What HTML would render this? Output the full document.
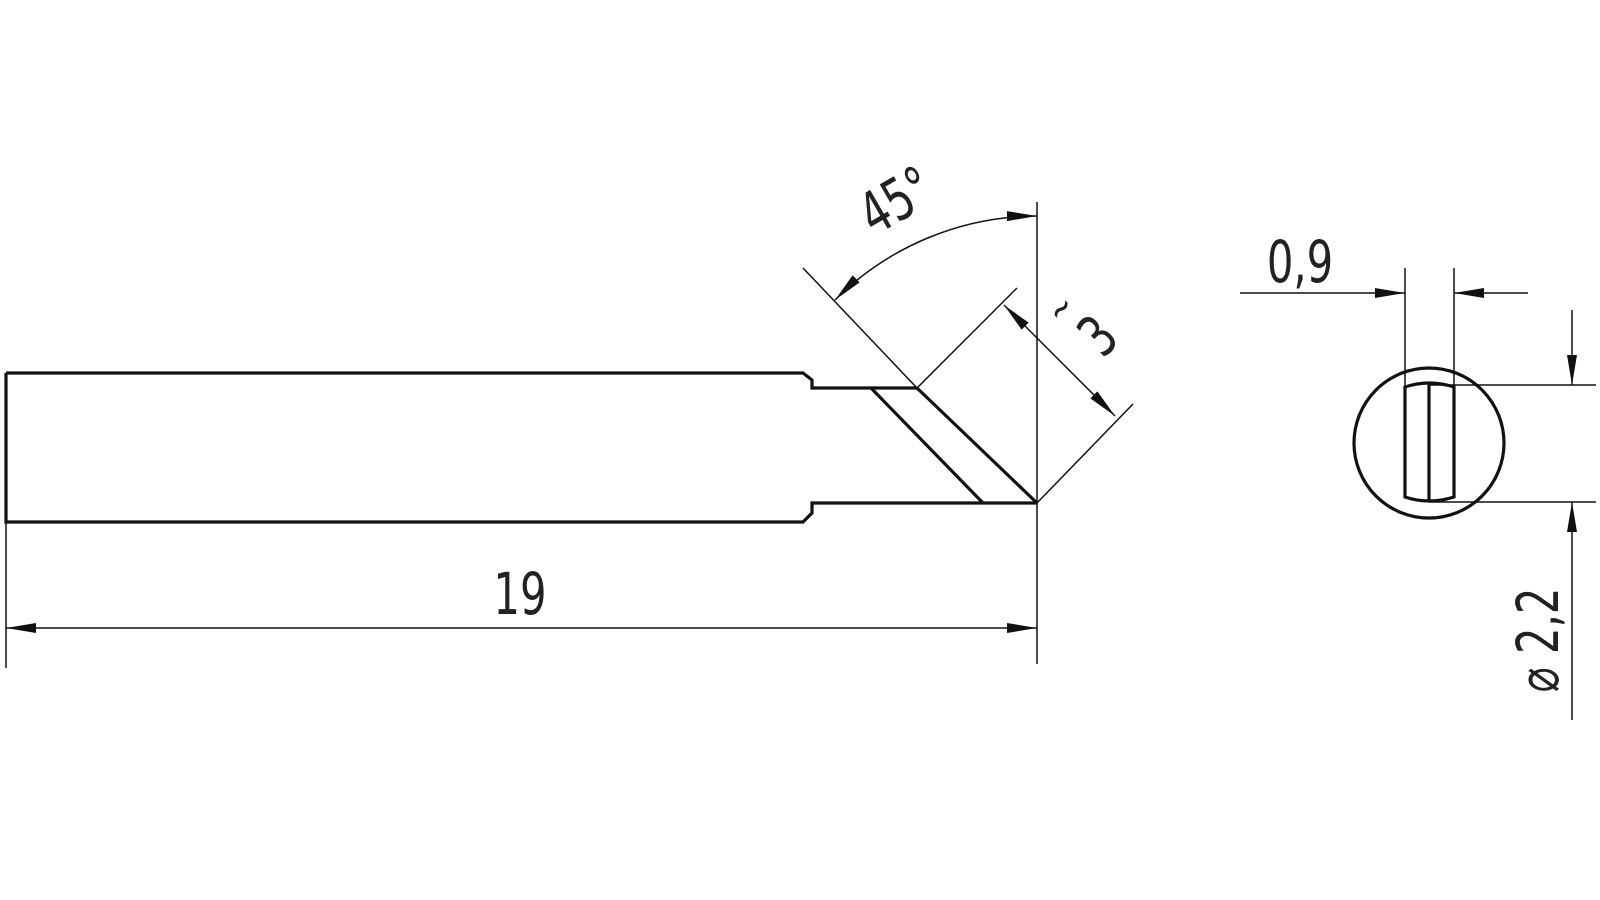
<!DOCTYPE html>
<html><head><meta charset="utf-8"><style>
html,body{margin:0;padding:0;background:#fff;width:1600px;height:900px;overflow:hidden}
text{font-family:"Liberation Sans Narrow","DejaVu Sans Condensed","Liberation Sans",sans-serif;fill:#222}
</style></head><body>
<svg width="1600" height="900" viewBox="0 0 1600 900" xmlns="http://www.w3.org/2000/svg">
<defs>
<marker id="a" viewBox="0 0 30 10" refX="30" refY="5" markerWidth="30" markerHeight="10" markerUnits="userSpaceOnUse" orient="auto-start-reverse"><path d="M0,0 L30,5 L0,10 Z" fill="#111"/></marker>
</defs>
<g stroke="#111" fill="none">
<path d="M6,373 L803,373 L812,380 L812,388 L917,388 M6,373 L6,522 L803,522 L812,513 L812,503 L1037,503" stroke-width="3.2"/>
<path d="M917,388 L1037,503" stroke-width="3.2"/>
<path d="M871,388 L983,503" stroke-width="3.2"/>
<path d="M1037,202 L1037,664" stroke-width="1.5"/>
<path d="M6,522 L6,668" stroke-width="1.5"/>
<path d="M803,268 L917,388" stroke-width="1.5"/>
<path d="M917,388 L1017,288" stroke-width="1.5"/>
<path d="M1037,503 L1133,404" stroke-width="1.5"/>
<path d="M6,628 L1037,628" stroke-width="1.5" marker-start="url(#a)" marker-end="url(#a)"/>
<path d="M1004,305 L1115,416" stroke-width="1.5" marker-start="url(#a)" marker-end="url(#a)"/>
<path d="M835,300 A287,287 0 0 1 1037,216" stroke-width="1.5" marker-start="url(#a)" marker-end="url(#a)"/>
<circle cx="1429" cy="443" r="75" stroke-width="3.2"/>
<path d="M1405,387 L1405,497 Q1429,505 1454,497 L1454,387 Q1429,379 1405,387 Z M1429,383 L1429,502" stroke-width="3.2"/>
<path d="M1405,268 L1405,387 M1454,268 L1454,387" stroke-width="1.5"/>
<path d="M1240,293 L1405,293" stroke-width="1.5" marker-end="url(#a)"/>
<path d="M1528,293 L1454,293" stroke-width="1.5" marker-end="url(#a)"/>
<path d="M1429,385 L1596,385 M1429,502 L1596,502" stroke-width="1.5"/>
<path d="M1572,310 L1572,385" stroke-width="1.5" marker-end="url(#a)"/>
<path d="M1572,720 L1572,502" stroke-width="1.5" marker-end="url(#a)"/>
</g>
<text x="520" y="614" font-size="58" text-anchor="middle" transform="translate(520,0) scale(0.8,1) translate(-520,0)">19</text>
<text font-size="58" text-anchor="middle" transform="translate(906,218) rotate(-30) scale(0.8,1)">45°</text>
<text font-size="58" text-anchor="middle" transform="translate(1112,350) rotate(-45) scale(0.8,1)">3</text>
<text font-size="40" text-anchor="middle" transform="translate(1070,318) rotate(-45) scale(0.8,1)">~</text>
<text x="1300" y="282" font-size="58" text-anchor="middle" transform="translate(1300,0) scale(0.8,1) translate(-1300,0)">0,9</text>
<text font-size="58" text-anchor="middle" transform="translate(1558,640) rotate(-90) scale(0.8,1)">⌀ 2,2</text>
</svg>
</body></html>
